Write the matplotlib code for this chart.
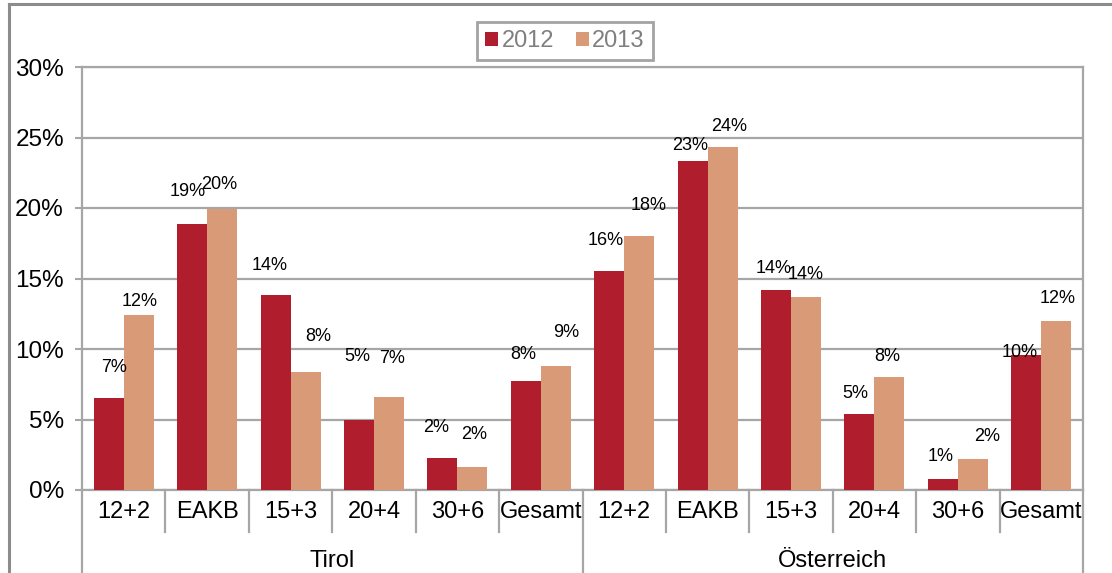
import numpy as np
import matplotlib
matplotlib.use('Agg')
import matplotlib.pyplot as plt
from matplotlib.lines import Line2D
from matplotlib.transforms import blended_transform_factory

plt.rcParams['font.family'] = ['Liberation Sans', 'DejaVu Sans']

# data (percent)
groups = ['Tirol', 'Österreich']
categories = ['12+2', 'EAKB', '15+3', '20+4', '30+6', 'Gesamt',
              '12+2', 'EAKB', '15+3', '20+4', '30+6', 'Gesamt']
vals_2012 = [6.5, 18.9, 13.8, 5.0, 2.3, 7.7,
             15.5, 23.3, 14.2, 5.4, 0.8, 9.6]
vals_2013 = [12.4, 19.9, 8.4, 6.6, 1.6, 8.8,
             18.0, 24.3, 13.7, 8.0, 2.2, 12.0]
labels_2012 = ['7%', '19%', '14%', '5%', '2%', '8%',
               '16%', '23%', '14%', '5%', '1%', '10%']
labels_2013 = ['12%', '20%', '8%', '7%', '2%', '9%',
               '18%', '24%', '14%', '8%', '2%', '12%']
yticks = [0, 5, 10, 15, 20, 25, 30]

# label nudges in pixels (dx, dy above bar top), Excel had them dragged around
nudge_2012 = [(5, 31), (-4, 32), (-6, 30), (-2, 63), (-6, 30), (-3, 27),
              (-4, 31), (-2, 16), (-2, 21), (-4, 20), (-2, 22), (-7, 2)]
nudge_2013 = [(1, 14), (-3, 25), (13, 35), (3, 38), (2, 33), (10, 33),
              (9, 31), (6, 21), (0, 22), (-2, 21), (14, 22), (1, 22)]

c12 = '#B01E2E'
c13 = '#D99A78'
grid_c = '#A6A6A6'
fs = 17

fig = plt.figure(figsize=(11.12, 5.73), dpi=100)
ax = fig.add_axes([82/1112, 83/573, 1001/1112, 423/573])

x = np.arange(len(categories))
w = 0.36
ax.bar(x - w/2, vals_2012, w, color=c12, label='2012', zorder=3)
ax.bar(x + w/2, vals_2013, w, color=c13, label='2013', zorder=3)

px = 72 / 100
for i in range(len(x)):
    dx, dy = nudge_2012[i]
    ax.annotate(labels_2012[i], (x[i] - w/2, vals_2012[i]),
                xytext=(dx*px, dy*px), textcoords='offset points',
                ha='center', va='center', fontsize=13, zorder=4)
    dx, dy = nudge_2013[i]
    ax.annotate(labels_2013[i], (x[i] + w/2, vals_2013[i]),
                xytext=(dx*px, dy*px), textcoords='offset points',
                ha='center', va='center', fontsize=13, zorder=4)

ax.set_xlim(-0.5, len(categories) - 0.5)
ax.set_ylim(0, 30)
ax.set_yticks(yticks)
ax.set_yticklabels([f'{t}%' for t in yticks], fontsize=17.5)
ax.set_xticks([])
ax.yaxis.grid(True, color=grid_c, linewidth=1.6, zorder=0)
ax.tick_params(axis='y', length=5, width=1.5, color=grid_c, pad=8)
for s in ax.spines.values():
    s.set_color(grid_c)
    s.set_linewidth(1.6)

# two level category axis
tr = blended_transform_factory(ax.transData, ax.transAxes)
for i, c in enumerate(categories):
    ax.text(i, -0.052, c, transform=tr, ha='center', va='center', fontsize=fs)
for b in np.arange(0.5, len(categories) - 1, 1):
    if b == 5.5:
        continue
    ax.plot([b, b], [0, -0.1], transform=tr, color=grid_c, lw=1.6, clip_on=False)
for b in [-0.5, 5.5, 11.5]:
    ax.plot([b, b], [0, -0.21], transform=tr, color=grid_c, lw=1.6, clip_on=False)
for g, gname in enumerate(groups):
    ax.text(g * 6 + 2.5, -0.168, gname, transform=tr, ha='center', va='center', fontsize=fs)

leg = fig.legend(loc='center', bbox_to_anchor=(565/1112, 1 - 41/573), ncol=2,
                 fontsize=fs, frameon=True, fancybox=False, handlelength=0.55,
                 handleheight=0.55, handletextpad=0.15, columnspacing=0.9,
                 borderpad=0.35, labelcolor='#7F7F7F')
leg.get_frame().set_edgecolor('#8C8C8C')
leg.get_frame().set_linewidth(2)

# outer chart border (only top and left show in the crop)
fig.add_artist(Line2D([9/1112, 1], [1 - 4/573, 1 - 4/573], color='#8C8C8C', lw=2.2))
fig.add_artist(Line2D([9/1112, 9/1112], [0, 1 - 4/573], color='#8C8C8C', lw=2.2))

fig.savefig('out.png', dpi=100)
